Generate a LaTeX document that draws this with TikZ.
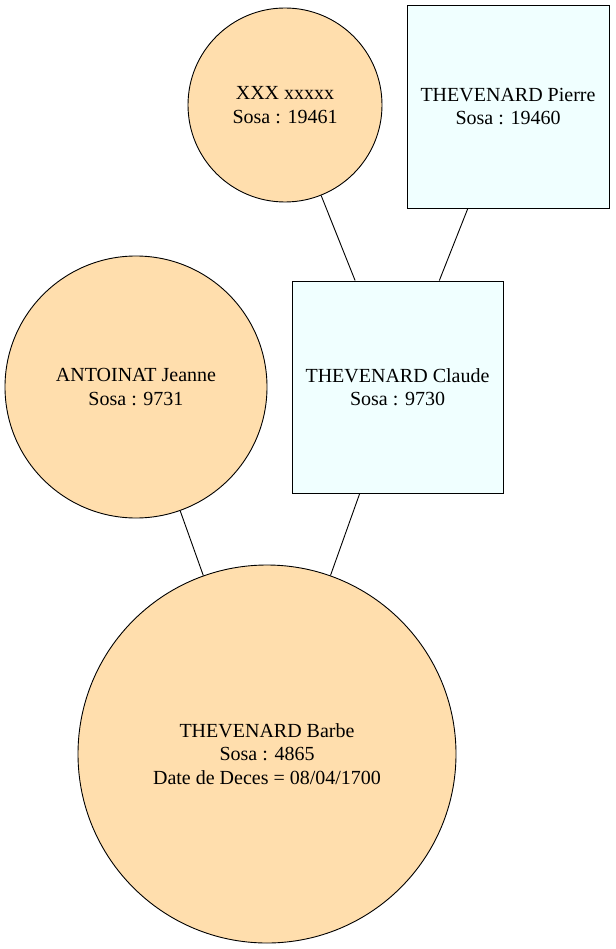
\documentclass[tikz,border=0pt]{standalone}
\usepackage{fontspec}
\setmainfont{Liberation Serif}
\definecolor{femme}{HTML}{FFDEAD}
\definecolor{homme}{HTML}{F0FFFF}
\begin{document}
\begin{tikzpicture}[x=1pt,y=-1pt,
  person/.style={draw=black,line width=0.9pt,align=center,inner sep=0pt,
    font=\fontsize{20}{23.5}\selectfont},
  fem/.style={person,circle,fill=femme},
  hom/.style={person,rectangle,fill=homme},
  link/.style={draw=black,line width=0.9pt}]
\useasboundingbox (0,0) rectangle (615,949);
\node[fem,minimum size=194pt] (xxx) at (285,105) {XXX xxxxx\\Sosa : 19461};
\node[hom,minimum width=202pt,minimum height=203pt] (pierre) at (508,106.5) {THEVENARD Pierre\\Sosa : 19460};
\node[fem,minimum size=262pt] (jeanne) at (136,387) {ANTOINAT Jeanne\\Sosa : 9731};
\node[hom,minimum width=211pt,minimum height=212pt] (claude) at (397.5,387) {THEVENARD Claude\\Sosa : 9730};
\node[fem,minimum size=378pt] (barbe) at (267,754) {THEVENARD Barbe\\Sosa : 4865\\Date de Deces = 08/04/1700};
\draw[link] (xxx) -- (claude);
\draw[link] (pierre) -- (claude);
\draw[link] (jeanne) -- (barbe);
\draw[link] (claude) -- (barbe);
\end{tikzpicture}
\end{document}
